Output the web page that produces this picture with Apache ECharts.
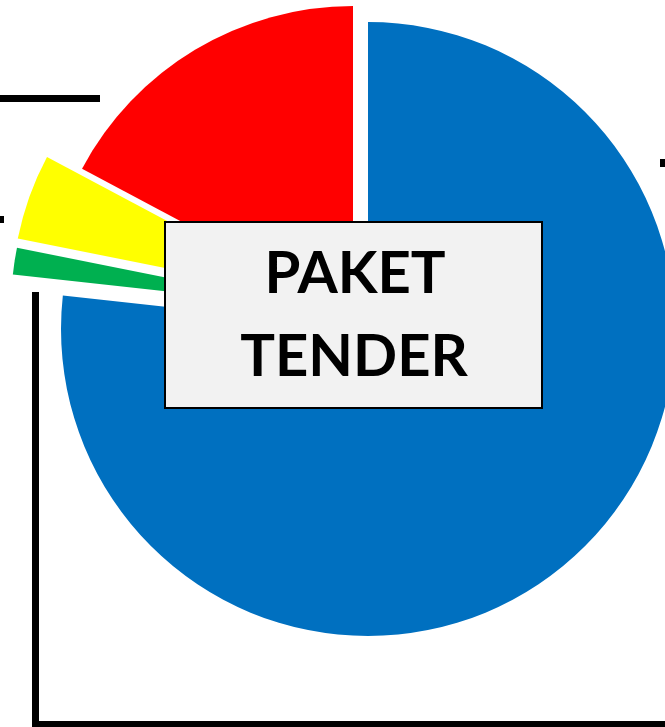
<!DOCTYPE html>
<html>
<head>
<meta charset="utf-8">
<script src="https://cdn.jsdelivr.net/npm/echarts@6/dist/echarts.min.js"></script>
<style>
  html, body { margin: 0; padding: 0; background: #fff; }
  #chart { width: 665px; height: 727px; }
</style>
</head>
<body>
<div id="chart"></div>
<script>
// slice order clockwise from 12 o'clock
const categories = ['Blue', 'Green', 'Yellow', 'Red']
const values = [165, 3, 10, 37]
const colors = ['#0070c0', '#00b050', '#ffff00', '#ff0000']
const boxLines = ['PAKET', 'TENDER']

// each slice is pulled out by its own amount, so it gets its own series
const sliceCenters = [[368, 329], [318, 308], [310, 297], [353, 313]]
const sliceRadius = [307, 307, 298, 307]

let chart = echarts.init(document.getElementById('chart'))

const series = categories.map((name, k) => ({
  type: 'pie',
  silent: true,
  animation: false,
  center: sliceCenters[k],
  radius: [0, sliceRadius[k]],
  startAngle: 90,
  clockwise: true,
  label: { show: false },
  labelLine: { show: false },
  emphasis: { disabled: true },
  data: categories.map((c, i) => ({
    name: c,
    value: values[i],
    itemStyle: { color: i === k ? colors[i] : 'rgba(0,0,0,0)', borderWidth: 0 },
  })),
}))

chart.setOption({
  animation: false,
  series: series,
  graphic: [
    // frame lines
    { type: 'rect', shape: { x: 0, y: 95, width: 100, height: 7 }, style: { fill: '#000' } },
    { type: 'rect', shape: { x: 0, y: 216, width: 4, height: 7 }, style: { fill: '#000' } },
    { type: 'rect', shape: { x: 660, y: 159, width: 5, height: 8 }, style: { fill: '#000' } },
    { type: 'rect', shape: { x: 32, y: 292, width: 7, height: 435 }, style: { fill: '#000' } },
    { type: 'rect', shape: { x: 32, y: 721, width: 633, height: 6 }, style: { fill: '#000' } },
    // label box
    {
      type: 'rect',
      shape: { x: 165, y: 222, width: 377, height: 186 },
      style: { fill: '#f2f2f2', stroke: '#000', lineWidth: 2 },
      z: 10,
    },
    {
      type: 'text',
      x: 355, y: 274, z: 11,
      style: {
        text: boxLines[0], fill: '#000', align: 'center', verticalAlign: 'middle',
        font: 'bold 58px Lato',
      },
    },
    {
      type: 'text',
      x: 354, y: 357, z: 11,
      style: {
        text: boxLines[1], fill: '#000', align: 'center', verticalAlign: 'middle',
        font: 'bold 58px Lato',
      },
    },
  ],
})
</script>
</body>
</html>
